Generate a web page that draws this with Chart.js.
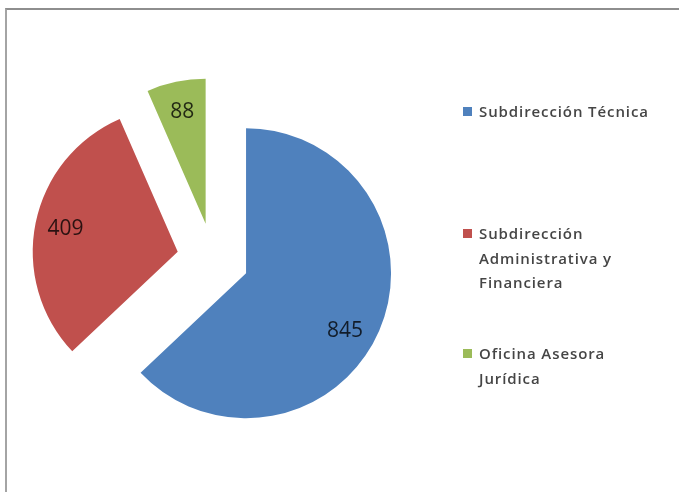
<!DOCTYPE html>
<html lang="es">
<head>
<meta charset="utf-8">
<title>Distribución por dependencia</title>
<script src="https://cdn.jsdelivr.net/npm/chart.js@4/dist/chart.umd.min.js"></script>
<style>
    html, body {
        margin: 0;
        padding: 0;
        width: 679px;
        height: 492px;
        overflow: hidden;
        background: #ffffff;
    }
    #frame {
        position: absolute;
        left: 5px;
        top: 8px;
        width: 680px;
        height: 520px;
        border-top: 2px solid #8e8e8e;
        border-left: 2px solid #a4a4a4;
        border-right: 1px solid #dddddd;
    }
    #pieChart {
        position: absolute;
        left: 0;
        top: 0;
    }
    .legend-item {
        position: absolute;
        left: 463px;
        width: 210px;
        font-family: "Open Sans", "Liberation Sans", sans-serif;
        font-size: 15px;
        font-weight: 600;
        line-height: 24.5px;
        letter-spacing: 0.9px;
        color: #454545;
        padding-left: 16px;
        box-sizing: border-box;
    }
    .legend-item .swatch {
        position: absolute;
        left: 0;
        top: 8px;
        width: 9px;
        height: 9px;
    }
</style>
</head>
<body>
<div id="frame"></div>
<canvas id="pieChart" width="679" height="492"></canvas>
<div id="legend"></div>

<script>
// Chart data
const categories = [
    'Subdirección Técnica',
    'Subdirección Administrativa y Financiera',
    'Oficina Asesora Jurídica'
];
const values = [845, 409, 88];
const sliceColors = ['#4F81BD', '#C0504D', '#9BBB59'];

// Legend lines as they wrap in the side box
const legendLines = [
    ['Subdirección Técnica'],
    ['Subdirección', 'Administrativa y', 'Financiera'],
    ['Oficina Asesora', 'Jurídica']
];
const legendTops = [99, 221, 341];

// Pull every slice out from the centre along its middle angle
const explodePlugin = {
    id: 'explode',
    afterDatasetsUpdate(chart, args, opts) {
        const meta = chart.getDatasetMeta(0);
        meta.data.forEach(arc => {
            const mid = (arc.startAngle + arc.endAngle) / 2;
            arc.x += Math.cos(mid) * opts.distance;
            arc.y += Math.sin(mid) * opts.distance;
        });
    }
};

// Value labels written inside each slice
const valueLabelPlugin = {
    id: 'valueLabels',
    afterDatasetsDraw(chart, args, opts) {
        const ctx = chart.ctx;
        const meta = chart.getDatasetMeta(0);
        const data = chart.data.datasets[0].data;
        ctx.save();
        ctx.font = opts.font;
        ctx.fillStyle = opts.color;
        ctx.textAlign = 'center';
        ctx.textBaseline = 'middle';
        meta.data.forEach((arc, i) => {
            const shift = (opts.angleShift[i] || 0) * Math.PI / 180;
            const mid = (arc.startAngle + arc.endAngle) / 2 + shift;
            const r = arc.outerRadius * opts.position;
            ctx.fillText(String(data[i]), arc.x + Math.cos(mid) * r, arc.y + Math.sin(mid) * r);
        });
        ctx.restore();
    }
};

function buildLegend() {
    const box = document.getElementById('legend');
    categories.forEach((name, i) => {
        const item = document.createElement('div');
        item.className = 'legend-item';
        item.style.top = legendTops[i] + 'px';
        item.title = name;
        const swatch = document.createElement('span');
        swatch.className = 'swatch';
        swatch.style.background = sliceColors[i];
        item.appendChild(swatch);
        legendLines[i].forEach(line => {
            const row = document.createElement('div');
            row.textContent = line;
            item.appendChild(row);
        });
        box.appendChild(item);
    });
}

function initializeChart() {
    const ctx = document.getElementById('pieChart').getContext('2d');
    new Chart(ctx, {
        type: 'pie',
        data: {
            labels: categories,
            datasets: [{
                data: values,
                backgroundColor: sliceColors,
                borderWidth: 0
            }]
        },
        options: {
            responsive: false,
            animation: false,
            events: [],
            radius: 145,
            layout: {
                padding: { left: 20, right: 273, top: 42, bottom: 16 }
            },
            plugins: {
                legend: { display: false },
                tooltip: { enabled: false },
                explode: { distance: 36 },
                valueLabels: {
                    font: '21px "Open Sans", "Liberation Sans", sans-serif',
                    color: 'rgba(0, 0, 0, 0.78)',
                    position: 0.79,
                    angleShift: [7, 0, 0]
                }
            }
        },
        plugins: [explodePlugin, valueLabelPlugin]
    });
}

buildLegend();
initializeChart();
</script>
</body>
</html>
